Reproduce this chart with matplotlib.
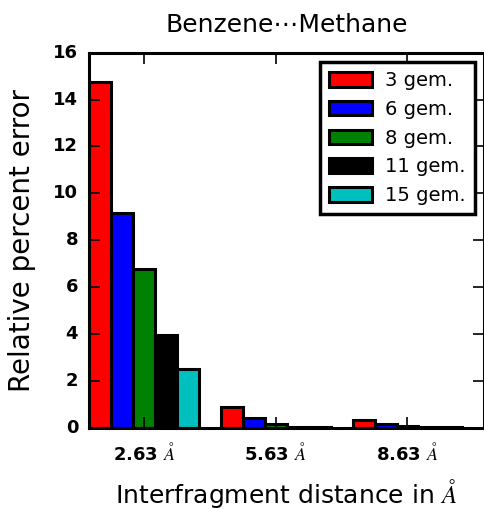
import numpy as np
import matplotlib
matplotlib.use('Agg')
import matplotlib.pyplot as plt

plt.style.use('classic')
plt.rcParams['mathtext.fontset'] = 'cm'

# interfragment distances (Angstrom)
distances = [2.63, 5.63, 8.63]
tick_labels = [r'2.63 $\AA$', r'5.63 $\AA$', r'8.63 $\AA$']

# relative percent error per number of gem functions
series_names = ['3 gem.', '6 gem.', '8 gem.', '11 gem.', '15 gem.']
err_3 = [14.76, 0.88, 0.32]
err_6 = [9.15, 0.40, 0.15]
err_8 = [6.76, 0.16, 0.09]
err_11 = [3.95, 0.03, 0.02]
err_15 = [2.52, 0.01, 0.01]
colors = ['r', 'b', 'g', 'k', 'c']

series = [err_3, err_6, err_8, err_11, err_15]
width = 0.5

fig = plt.figure(figsize=(4.85, 5.09), dpi=100)
ax = fig.add_axes([0.184, 0.1597, 0.8146, 0.7368])

x = np.array(distances)
for i, (vals, name, c) in enumerate(zip(series, series_names, colors)):
    ax.bar(x + (i - 2) * width, vals, width, color=c, edgecolor='k',
           linewidth=2.2, label=name, align='center')

ax.set_xlim(1.38, 10.38)
ax.set_ylim(0, 16)
ax.set_yticks(np.arange(0, 17, 2))
ax.set_xticks(distances)
ax.set_xticklabels(tick_labels, fontweight='bold', fontsize=13)
for t in ax.get_yticklabels():
    t.set_fontweight('bold')
    t.set_fontsize(13)
ax.tick_params(length=8, width=1.2, pad=10)
ax.tick_params(axis='y', pad=8)
for s in ax.spines.values():
    s.set_linewidth(2.2)

ax.set_title('Benzene\u22efMethane', fontsize=18, y=1.037)
ax.set_ylabel('Relative percent error', fontsize=20, labelpad=12)
ax.set_xlabel(r'Interfragment distance in $\AA$', fontsize=18, labelpad=10)

leg = ax.legend(loc='upper right', fontsize=14, handlelength=2.2,
                handleheight=0.77, labelspacing=0.5, borderaxespad=0.5,
                handletextpad=0.7, borderpad=0.45)
leg.get_frame().set_linewidth(2.5)

fig.savefig('out.png', dpi=100)
